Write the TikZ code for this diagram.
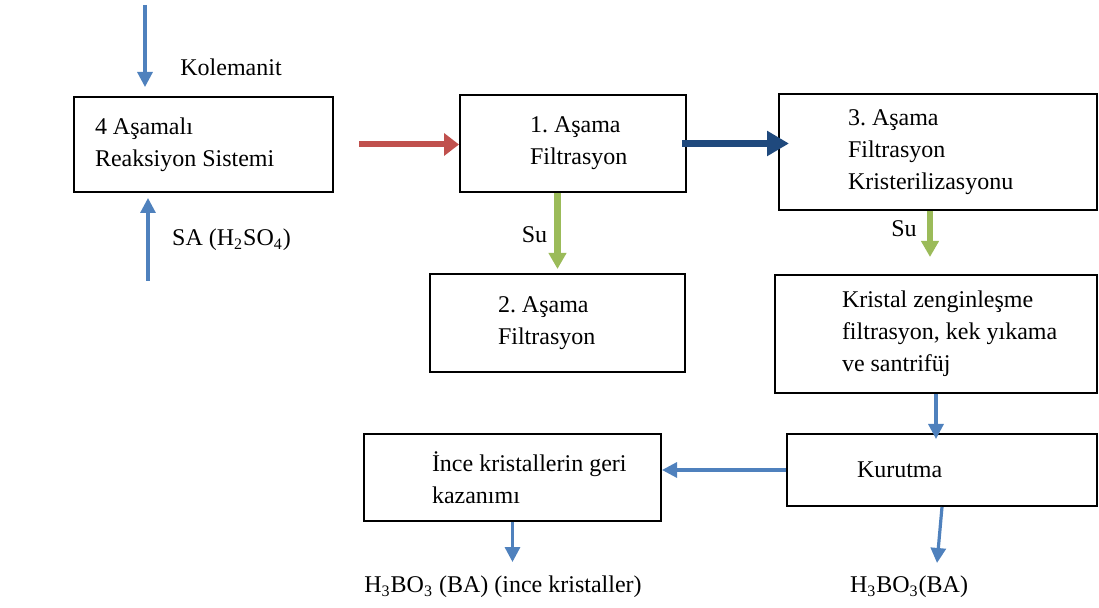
\documentclass[tikz,border=0pt]{standalone}
\usepackage{fontspec}
\setmainfont{Liberation Serif}
\usetikzlibrary{arrows.meta}
\definecolor{akismavi}{HTML}{4F81BD}
\definecolor{kirmizi}{HTML}{C0504D}
\definecolor{lacivert}{HTML}{1F497D}
\definecolor{yesil}{HTML}{9BBB59}
\frenchspacing
\tikzset{
	stage/.style 2 args={draw, line width=1pt, rectangle, align=flush left, inner xsep=0pt, inner ysep=0pt, text width=#1, minimum height=#2},
	indent/.style={execute at begin node={\leftskip=#1\relax}},
	flow/.style n args={4}{color=#1, line width=#2, -{Triangle[length=#3, width=#4]}}
}

\begin{document}
\begin{tikzpicture}[x=0.5pt, y=-0.5pt, font=\fontsize{12}{16}\selectfont]
	\useasboundingbox (0,0) rectangle (1099,608);
	% process boxes
	\node[stage={129.5pt}{47.5pt}, indent=10.5pt] (reak) at (203.5,144.5) {4 Aşamalı\\Reaksiyon Sistemi};
	\node[stage={113pt}{48.5pt}, indent=35pt] (filt1) at (573,143.5) {1. Aşama\\Filtrasyon};
	\node[stage={159pt}{58pt}, indent=34.5pt] (filt3) at (938,152) {3. Aşama\\Filtrasyon\\Kristerilizasyonu};
	\node[stage={127.5pt}{49pt}, indent=34pt] (filt2) at (557.5,323) {2. Aşama\\Filtrasyon};
	\node[stage={161pt}{59pt}, indent=33.5pt] (krist) at (936,334) {Kristal zenginleşme\\filtrasyon, kek yıkama\\ve santrifüj};
	\node[stage={155pt}{36pt}, indent=35pt] (kurut) at (942,470) {Kurutma};
	\node[stage={148.5pt}{43.5pt}, indent=34pt] (ince) at (512.5,477.5) {İnce kristallerin geri\\kazanımı};
	% inputs and outputs
	\node (kol) at (231,67) {Kolemanit};
	\node (sa) at (231.5,240) {SA (H\textsubscript{2}SO\textsubscript{4})};
	\node (su1) at (534.5,235) {Su};
	\node (su2) at (904,229) {Su};
	\node (ba1) at (503,587) {H\textsubscript{3}BO\textsubscript{3} (BA) (ince kristaller)};
	\node (ba2) at (909,587) {H\textsubscript{3}BO\textsubscript{3}(BA)};
	\coordinate (kolin) at (145,5);
	\coordinate (sain) at (148,281);
	\coordinate (ba2tip) at (937,563);
	% arrows
	\path[flow={akismavi}{1.6pt}{7.5pt}{7.5pt}]
	(kolin) edge[shorten >=4.5pt] (kolin |- reak.north)
	(sain) edge[shorten >=2.5pt] (sain |- reak.south)
	(krist.south) edge[shorten >=-3pt] (krist.south |- kurut.north)
	(kurut.west) edge (kurut.west -| ince.east)
	(kurut.south) edge (ba2tip)
	(ince.south) edge[shorten >=3.5pt] (ince.south |- ba1.north);
	\path[flow={kirmizi}{3pt}{7.5pt}{11pt}]
	(reak.east) edge[shorten <=12.5pt] (reak.east -| filt1.west);
	\path[flow={lacivert}{3.5pt}{11pt}{12pt}]
	(filt1.east) edge[shorten <=-2.5pt, shorten >=-5.5pt] (filt1.east -| filt3.west);
	\path[flow={yesil}{3.3pt}{8pt}{8.5pt}]
	(filt2.north |- filt1.south) edge[shorten >=2pt] (filt2.north)
	([xshift=-4pt]filt3.south) edge[shorten >=8.5pt] ([xshift=-4pt]filt3.south |- krist.north);
\end{tikzpicture}
\end{document}
